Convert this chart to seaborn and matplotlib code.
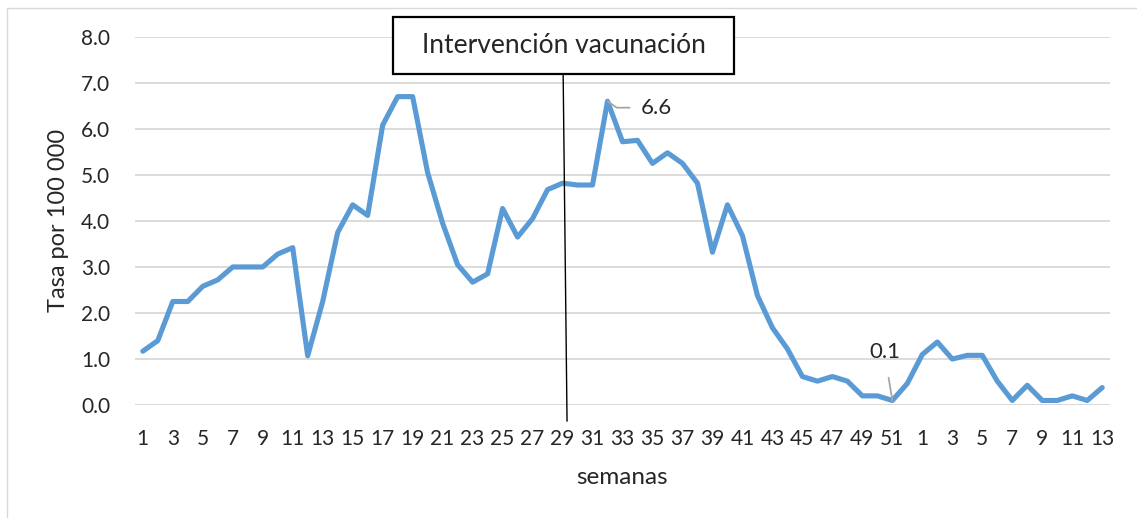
"""Tasa semanal por 100 000 con la intervención de vacunación marcada."""

import pandas as pd
import seaborn as sns
import matplotlib.pyplot as plt
from matplotlib.patches import Rectangle

# semanas epidemiológicas: 1..52 de un año y 1..13 del siguiente
weeks = list(range(1, 53)) + list(range(1, 14))
rates = [
    1.17, 1.40, 2.25, 2.25, 2.58, 2.72, 3.00, 3.00, 3.00, 3.28,
    3.42, 1.07, 2.25, 3.75, 4.35, 4.12, 6.08, 6.70, 6.70, 5.05,
    3.95, 3.05, 2.67, 2.85, 4.27, 3.65, 4.05, 4.68, 4.82, 4.78,
    4.78, 6.60, 5.72, 5.75, 5.25, 5.48, 5.25, 4.82, 3.32, 4.35,
    3.68, 2.38, 1.68, 1.22, 0.62, 0.52, 0.62, 0.52, 0.20, 0.20,
    0.10, 0.47,
    1.10, 1.37, 1.00, 1.08, 1.08, 0.52, 0.10, 0.43, 0.10, 0.10,
    0.20, 0.10, 0.38,
]
y_ticks = [0, 1, 2, 3, 4, 5, 6, 7, 8]
box_text = "Intervención vacunación"

df = pd.DataFrame({"pos": range(len(rates)), "semana": weeks, "tasa": rates})

sns.set_style("white")
plt.rcParams["font.family"] = ["Lato", "DejaVu Sans"]

fig = plt.figure(figsize=(11.37, 5.18), dpi=100)
ax = fig.add_axes([0.119, 0.218, 0.857, 0.711])

sns.lineplot(data=df, x="pos", y="tasa", color="#5B9BD5", linewidth=3.7,
             ax=ax, zorder=3)

ax.set_xlim(-0.5, len(rates) - 0.5)
ax.set_ylim(0, 8)
ax.set_yticks(y_ticks)
ax.set_yticklabels([f"{v:.1f}" for v in y_ticks], fontsize=15)
ax.set_xticks(df["pos"][::2])
ax.set_xticklabels(df["semana"][::2], fontsize=15)
ax.tick_params(axis="x", length=0, pad=17)
ax.tick_params(axis="y", length=0, pad=18)
ax.yaxis.grid(True, color="#D9D9D9", linewidth=1.3)
for side in ["top", "right", "left", "bottom"]:
    ax.spines[side].set_visible(False)
ax.axhline(0, color="#D9D9D9", linewidth=1.3, zorder=1)

ax.set_xlabel("semanas", fontsize=17.5, labelpad=13)
ax.set_ylabel("Tasa por 100 000", fontsize=17, labelpad=9)

# línea de la intervención y su cuadro
ax.annotate("", xy=(28.3, -0.35), xytext=(28.04, 7.2),
            xycoords="data", textcoords="data",
            arrowprops=dict(arrowstyle="-", color="black", lw=1,
                            shrinkA=0, shrinkB=0),
            annotation_clip=False)
fig.patches.append(Rectangle((0.3456, 0.857), 0.2999, 0.110,
                             transform=fig.transFigure, fc="white",
                             ec="black", lw=1.6, zorder=5))
fig.text(0.4956, 0.912, box_text, fontsize=19, ha="center", va="center",
         zorder=6)

# etiquetas de datos
ax.annotate("6.6", xy=(31, 6.6), xytext=(33.25, 6.46), fontsize=16,
            va="center",
            arrowprops=dict(arrowstyle="-", color="#A6A6A6", lw=1.3,
                            shrinkA=6, shrinkB=0,
                            connectionstyle="angle,angleA=0,angleB=-35,rad=0"))
ax.annotate("0.1", xy=(50, 0.1), xytext=(49.47, 1.15), fontsize=16,
            ha="center", va="center",
            arrowprops=dict(arrowstyle="-", color="#A6A6A6", lw=1.3,
                            shrinkA=9, shrinkB=0))

fig.patches.append(Rectangle((0.006, -0.05), 1.1, 1.035,
                             transform=fig.transFigure, fill=False,
                             ec="#D9D9D9", lw=1))

fig.savefig("out.png", dpi=100)
